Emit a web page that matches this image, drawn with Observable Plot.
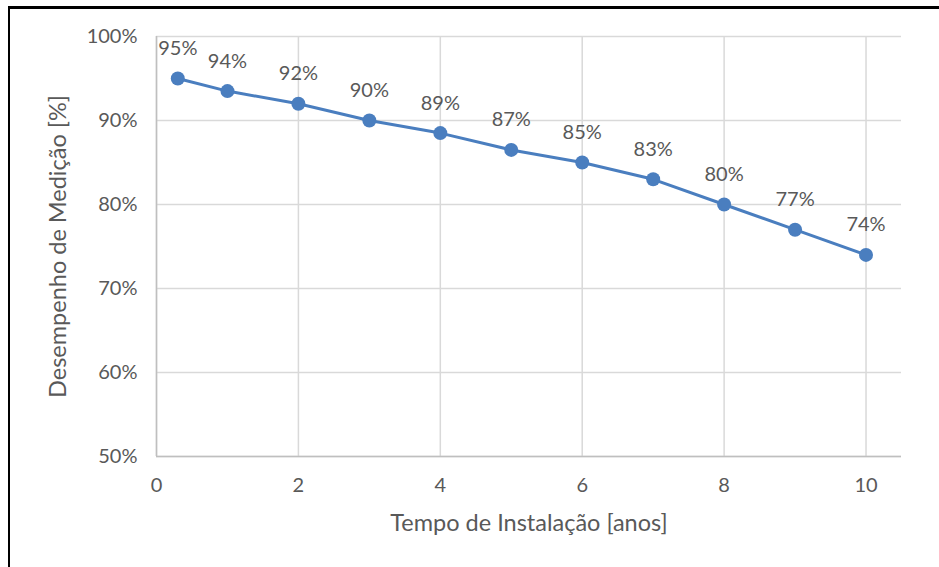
<!DOCTYPE html>
<html>
<head>
<meta charset="utf-8">
<script src="https://cdn.jsdelivr.net/npm/d3@7"></script>
<script src="https://cdn.jsdelivr.net/npm/@observablehq/plot@0.6"></script>
<style>
  html, body { margin: 0; padding: 0; background: #fff; }
  #wrap { position: relative; width: 939px; height: 567px; overflow: hidden; }
  #frame { position: absolute; left: 8px; top: 6px; width: 940px; height: 570px;
           border-left: 2px solid #000; border-top: 3px solid #000; pointer-events: none; }
  svg { font-family: Lato, "Open Sans", sans-serif; }
</style>
</head>
<body>
<div id="wrap"><div id="frame"></div></div>
<script>
const years = [0.3, 1, 2, 3, 4, 5, 6, 7, 8, 9, 10];
const performance = [95, 93.5, 92, 90, 88.5, 86.5, 85, 83, 80, 77, 74];
const xTicks = [0, 2, 4, 6, 8, 10];
const yTicks = [50, 60, 70, 80, 90, 100];
const xTitle = "Tempo de Instalação [anos]";
const yTitle = "Desempenho de Medição [%]";

const data = years.map((x, i) => ({x, y: performance[i], label: Math.round(performance[i]) + "%"}));

const blue = "#4a7ebf";
const gray = "#595959";

const chart = Plot.plot({
  width: 939,
  height: 567,
  marginLeft: 156,
  marginRight: 38,
  marginTop: 36,
  marginBottom: 111,
  style: {fontFamily: "Lato, 'Open Sans', sans-serif", background: "transparent"},
  x: {domain: [0, 10.5], ticks: xTicks},
  y: {domain: [50, 100], ticks: yTicks},
  marks: [
    Plot.gridX(xTicks, {stroke: "#d9d9d9", strokeOpacity: 1, strokeWidth: 1.5}),
    Plot.gridY(yTicks, {stroke: "#d9d9d9", strokeOpacity: 1, strokeWidth: 1.5}),
    Plot.ruleX([0], {stroke: "#bfbfbf", strokeWidth: 1.5}),
    Plot.ruleY([50], {stroke: "#bfbfbf", strokeWidth: 1.5}),
    Plot.axisX(xTicks, {tickSize: 0, tickPadding: 21, fontSize: 20, fill: gray, label: null}),
    Plot.axisY(yTicks, {tickSize: 0, tickPadding: 19, fontSize: 20, fill: gray, label: null, tickFormat: d => d + "%"}),
    Plot.line(data, {x: "x", y: "y", stroke: blue, strokeWidth: 3}),
    Plot.dot(data, {x: "x", y: "y", r: 7, fill: blue, stroke: "none"}),
    Plot.text(data, {x: "x", y: "y", text: "label", dy: -30, fontSize: 20, fill: gray}),
    Plot.text([xTitle], {frameAnchor: "bottom", dy: 74, fontSize: 23.5, fill: gray, text: d => d}),
    Plot.text([yTitle], {frameAnchor: "left", textAnchor: "middle", dx: -98, rotate: -90, fontSize: 23.5, fill: gray, text: d => d})
  ]
});
document.getElementById("wrap").prepend(chart);
</script>
</body>
</html>
